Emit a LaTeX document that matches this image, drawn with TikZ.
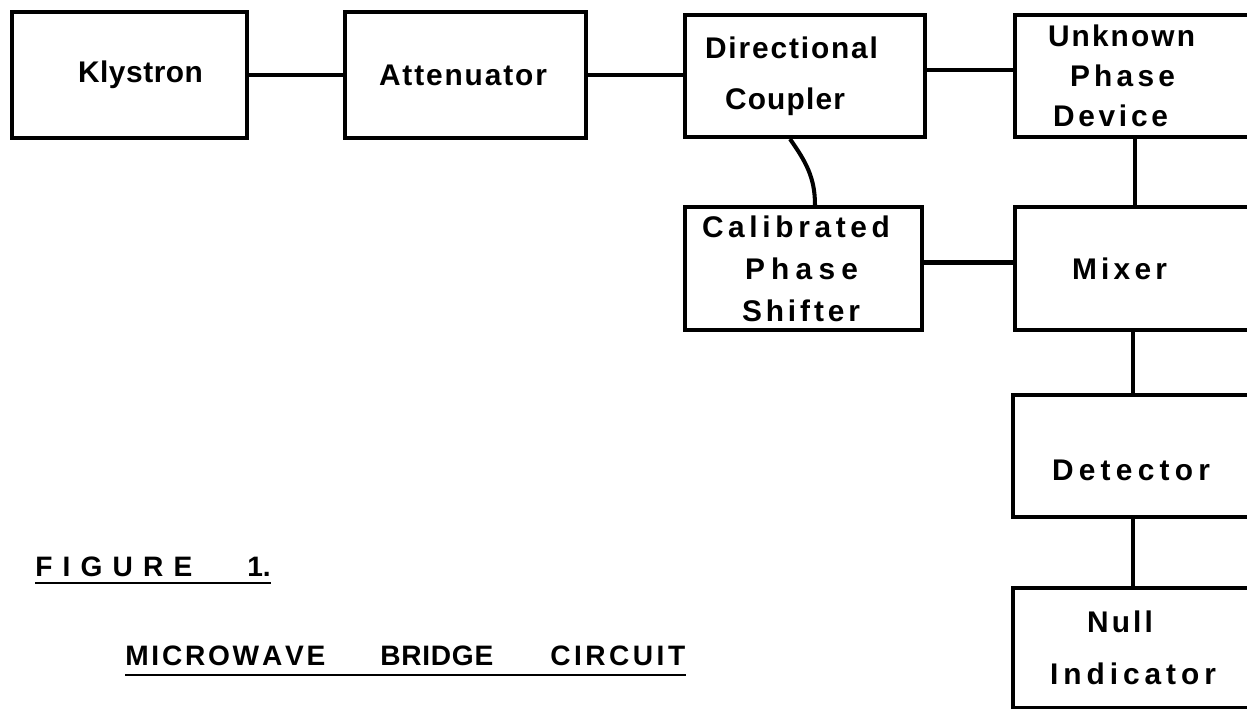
\documentclass[tikz,border=0pt]{standalone}
\usepackage{fontspec}
\newfontfamily\lettering{Liberation Sans}
\makeatletter
% spread the letters of a word over a given width
\newcommand\lspread[2]{\makebox[#1][l]{\let\lsp@sep\relax\@tfor\lsp@c:=#2\do{\lsp@sep\lsp@c\let\lsp@sep\hfill}}}
\makeatother
\tikzset{
  block/.style={draw, line width=2.3pt, inner xsep=0pt, inner ysep=0pt, align=left,
                font=\lettering\bfseries\fontsize{17}{21}\selectfont},
  link/.style={line width=2.3pt},
  caption/.style={inner sep=0pt, font=\lettering\bfseries\fontsize{16}{20}\selectfont},
  uline/.style={line width=1.4pt}
}

\begin{document}
\begin{tikzpicture}[x=0.02cm, y=-0.02cm]
  \useasboundingbox (0,0) rectangle (1247,708);
  \clip (0,0) rectangle (1247,708);
  % top row
  \node[block, text width=4.7cm, minimum height=2.52cm] (kly) at (129.5,75)
      {\hspace*{1.32cm}\lspread{2.5cm}{Klystron}};
  \node[block, text width=4.82cm, minimum height=2.52cm] (att) at (465.5,75)
      {\hspace*{0.68cm}\lspread{3.36cm}{Attenuator}};
  \node[block, text width=4.8cm, minimum height=2.44cm] (dc) at (805,76)
      {\hspace*{0.4cm}\lspread{3.46cm}{Directional}\\[0.28cm]\hspace*{0.8cm}\lspread{2.4cm}{Coupler}};
  \node[block, text width=4.8cm, minimum height=2.44cm] (unk) at (1135,76)
      {\hspace*{0.66cm}\lspread{2.94cm}{Unknown}\\[0.06cm]\hspace*{1.1cm}\lspread{2.1cm}{Phase}\\[0.06cm]\hspace*{0.76cm}\lspread{2.3cm}{Device}};
  % second row
  \node[block, text width=4.74cm, minimum height=2.46cm] (cps) at (803.5,268.5)
      {\hspace*{0.34cm}\lspread{3.76cm}{Calibrated}\\[0.1cm]\hspace*{1.2cm}\lspread{2.26cm}{Phase}\\[0.1cm]\hspace*{1.14cm}\lspread{2.36cm}{Shifter}};
  \node[block, text width=4.8cm, minimum height=2.46cm] (mix) at (1135,268.5)
      {\hspace*{1.14cm}\lspread{1.9cm}{Mixer}};
  % right column
  \node[block, text width=4.8cm, minimum height=2.44cm] (det) at (1133,456)
      {\hspace*{0.78cm}\raisebox{-0.28cm}[\height][\depth]{\lspread{3.16cm}{Detector}}};
  \node[block, text width=4.8cm, minimum height=2.4cm] (nul) at (1133,648)
      {\hspace*{1.48cm}\lspread{1.32cm}{Null}\\[0.3cm]\hspace*{0.74cm}\lspread{3.32cm}{Indicator}};
  % connections
  \draw[link] (kly.east) -- (att.west);
  \draw[link] (att.east) -- (att.east -| dc.west);
  \draw[link, transform canvas={yshift=0.12cm}] (dc.east) -- (dc.east -| unk.west);
  \draw[link] ([xshift=-0.3cm]dc.south) to[out=-55, in=90] ([xshift=0.23cm]cps.north);
  \draw[link, transform canvas={yshift=0.12cm}] (cps.east) -- (cps.east -| mix.west);
  \draw[link] (unk) -- (mix);
  \draw[link] (det.north |- mix.south) -- (det.north);
  \draw[link] (det) -- (nul);
  % caption
  \node[caption, anchor=base west] (fig) at (35,576)
      {\lspread{3.14cm}{FIGURE}\hspace{1.1cm}1.};
  \draw[uline] ([yshift=-0.14cm]fig.base west) -- ([yshift=-0.14cm]fig.base east);
  \node[caption, anchor=base west] (title) at (125,665)
      {\lspread{4cm}{MICROWAVE}\hspace{1.1cm}\lspread{2.26cm}{BRIDGE}\hspace{1.14cm}\lspread{2.7cm}{CIRCUIT}};
  \draw[uline] ([yshift=-0.2cm]title.base west) -- ([yshift=-0.2cm]title.base east);
\end{tikzpicture}
\end{document}
